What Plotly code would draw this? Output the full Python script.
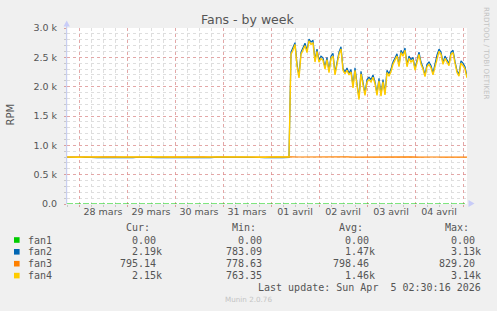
import plotly.graph_objects as go
import pandas as pd

# ---------------- data ----------------
pre_times = pd.date_range("2026-03-27 18:00", periods=38, freq="3h")
post_times = pd.date_range("2026-04-01 10:00", periods=89, freq="h")
fan3_times = pd.date_range("2026-03-27 18:00", periods=51, freq="4h")
fan1_times = pd.date_range("2026-03-27 18:00", periods=3, freq="100h")

fan1 = [0, 0, 0]

fan2_pre = [795, 798, 790, 797, 793, 788, 796, 794, 792, 798,
            795, 790, 797, 793, 799, 791, 795, 794, 789, 797,
            794, 792, 796, 793, 791, 798, 795, 790, 794, 797,
            792, 795, 793, 791, 796, 794, 790, 795]
fan4_pre = [800, 805, 798, 802, 800, 796, 803, 801, 799, 804,
            800, 797, 802, 800, 805, 798, 801, 800, 796, 803,
            800, 799, 802, 800, 798, 804, 801, 797, 800, 803,
            799, 801, 800, 798, 802, 800, 797, 801]

fan2_post = [2590, 2670, 2750, 2390, 2180, 2590, 2660, 2740, 2620, 2810,
             2760, 2790, 2450, 2640, 2450, 2520, 2490, 2330, 2500, 2270,
             2520, 2570, 2230, 2440, 2590, 2680, 2310, 2250, 2320, 2230,
             2290, 2010, 2320, 2050, 1810, 2260, 2080, 1880, 2120, 2160,
             2120, 2200, 2080, 1880, 2140, 1870, 2120, 1890, 2280, 2220,
             2300, 2420, 2490, 2560, 2370, 2620, 2560, 2660, 2370, 2520,
             2460, 2500, 2310, 2440, 2590, 2420, 2330, 2200, 2380, 2420,
             2360, 2230, 2390, 2540, 2640, 2590, 2410, 2520, 2460, 2390,
             2590, 2620, 2430, 2270, 2210, 2440, 2400, 2340, 2180]
fan4_post = [2550, 2620, 2720, 2350, 2150, 2550, 2620, 2700, 2580, 2780,
             2720, 2750, 2420, 2600, 2420, 2480, 2450, 2300, 2460, 2240,
             2480, 2520, 2200, 2400, 2550, 2640, 2280, 2220, 2280, 2200,
             2250, 1980, 2280, 2020, 1780, 2220, 2050, 1850, 2080, 2120,
             2080, 2160, 2050, 1850, 2100, 1840, 2080, 1860, 2240, 2180,
             2260, 2380, 2450, 2520, 2340, 2580, 2520, 2620, 2340, 2480,
             2420, 2460, 2280, 2400, 2550, 2380, 2300, 2170, 2340, 2380,
             2320, 2200, 2350, 2500, 2600, 2550, 2380, 2480, 2420, 2360,
             2550, 2580, 2400, 2240, 2180, 2400, 2360, 2300, 2150]

fan3 = [801, 803, 800, 804, 802, 799, 805, 801, 803, 800,
        802, 804, 801, 799, 803, 802, 800, 804, 801, 803,
        800, 802, 805, 801, 800, 803, 802, 799, 804, 801,
        803, 800, 798, 803, 801, 804, 800, 802, 799, 803,
        801, 800, 804, 802, 798, 803, 801, 800, 802, 804, 799]

series_names = ["fan1", "fan2", "fan3", "fan4"]
series_colors = ["#00cc00", "#0066b3", "#ff8000", "#ffcc00"]
cur_vals = ["0.00", "2.19k", "795.14", "2.15k"]
min_vals = ["0.00", "783.09", "778.63", "763.35"]
avg_vals = ["0.00", "1.47k", "798.46", "1.46k"]
max_vals = ["0.00", "3.13k", "829.20", "3.14k"]
col_headers = ["Cur:", "Min:", "Avg:", "Max:"]

day_lines = pd.date_range("2026-03-28", periods=9, freq="D")
label_times = pd.date_range("2026-03-28 12:00", periods=8, freq="D")
day_labels = ["28 mars", "29 mars", "30 mars", "31 mars",
              "01 avril", "02 avril", "03 avril", "04 avril"]
y_ticks = [0, 500, 1000, 1500, 2000, 2500, 3000]
y_labels = ["0.0", "0.5 k", "1.0 k", "1.5 k", "2.0 k", "2.5 k", "3.0 k"]
x_range = ["2026-03-27 18:00", "2026-04-05 02:00"]

# ---------------- geometry ----------------
W, H = 497, 311
L, T, PW, PH = 67, 28, 400, 176
B = H - T - PH
R = W - L - PW


def px(x):
    return (x - L) / PW


def py(y):
    return (T + PH - y) / PH


fig = go.Figure()
fig.add_trace(go.Scatter(x=list(pre_times) + list(post_times), y=fan2_pre + fan2_post,
                         mode="lines", line=dict(color=series_colors[1], width=1.2),
                         name="fan2", hoverinfo="skip"))
fig.add_trace(go.Scatter(x=fan3_times, y=fan3, mode="lines",
                         line=dict(color=series_colors[2], width=1.2),
                         name="fan3", hoverinfo="skip"))
fig.add_trace(go.Scatter(x=list(pre_times) + list(post_times), y=fan4_pre + fan4_post,
                         mode="lines", line=dict(color=series_colors[3], width=1.4),
                         name="fan4", hoverinfo="skip"))
fig.add_trace(go.Scatter(x=fan1_times, y=fan1, mode="lines", xaxis="x2",
                         line=dict(color=series_colors[0], width=1.2, dash="6px,2px"),
                         name="fan1", hoverinfo="skip"))

major_grid = "rgba(230,130,130,0.6)"
minor_grid = "#dedede"

fig.update_layout(
    width=W, height=H,
    margin=dict(l=L, r=R, t=T, b=B, pad=0),
    paper_bgcolor="#f0f0f0",
    plot_bgcolor="#ffffff",
    showlegend=False,
    font=dict(family="DejaVu Sans", color="#555555", size=9.5),
    xaxis=dict(
        type="date", range=x_range,
        tickmode="array", tickvals=day_lines, showticklabels=False,
        showgrid=True, gridcolor=major_grid, griddash="dot", gridwidth=1,
        ticks="outside", ticklen=2, tickcolor=major_grid,
        minor=dict(dtick=6 * 3600 * 1000, tick0="2026-03-28 00:00", showgrid=True,
                   gridcolor=minor_grid, griddash="dot", ticks="outside",
                   ticklen=2, tickcolor="#c8c8c8"),
        zeroline=False, showline=False, fixedrange=True,
    ),
    xaxis2=dict(
        type="date", overlaying="x", matches="x", anchor="y", side="bottom",
        range=x_range,
        tickmode="array", tickvals=label_times, ticktext=day_labels,
        showgrid=False, ticks="", showline=False, zeroline=False,
        tickfont=dict(size=9.5, color="#555555"),
    ),
    yaxis=dict(
        range=[0, 3000], tickmode="array", tickvals=y_ticks, ticktext=y_labels,
        showgrid=True, gridcolor=major_grid, griddash="dot", gridwidth=1,
        ticks="outside", ticklen=2, tickcolor=major_grid,
        minor=dict(dtick=100, showgrid=True, gridcolor=minor_grid, griddash="dot",
                   ticks="outside", ticklen=2, tickcolor="#c8c8c8"),
        zeroline=False, showline=False, ticklabelstandoff=5,
        tickfont=dict(size=9.5, color="#555555"), fixedrange=True,
    ),
)

shapes = []
axis_col = "rgba(170,180,240,0.7)"
# y axis line + arrow
shapes.append(dict(type="line", xref="paper", yref="paper",
                   x0=px(66.7), x1=px(66.7), y0=py(204), y1=py(24),
                   line=dict(color=axis_col, width=1)))
shapes.append(dict(type="path", xref="paper", yref="paper",
                   path=f"M {px(63.5)} {py(26.5)} L {px(69.9)} {py(26.5)} L {px(66.7)} {py(20.5)} Z",
                   fillcolor="#c8ccf8", line=dict(width=0)))
# x axis arrow
shapes.append(dict(type="path", xref="paper", yref="paper",
                   path=f"M {px(468.5)} {py(200)} L {px(468.5)} {py(207)} L {px(474.5)} {py(203.5)} Z",
                   fillcolor="#c8ccf8", line=dict(width=0)))

annotations = []
annotations.append(dict(text="Fans - by week", x=px(248), y=py(19.5), xref="paper", yref="paper",
                        showarrow=False, xanchor="center", yanchor="middle",
                        font=dict(size=12.5, color="#555555", family="DejaVu Sans")))
annotations.append(dict(text="RPM", x=px(10), y=py(114.5), xref="paper", yref="paper",
                        showarrow=False, textangle=-90, xanchor="center", yanchor="middle",
                        font=dict(size=10, color="#555555", family="DejaVu Sans")))
annotations.append(dict(text="RRDTOOL / TOBI OETIKER", x=px(486.5), y=py(53.5),
                        xref="paper", yref="paper", showarrow=False, textangle=90,
                        xanchor="center", yanchor="middle",
                        font=dict(size=7.2, color="#c4c4c4", family="DejaVu Sans")))
annotations.append(dict(text="Munin 2.0.76", x=px(248), y=py(299.5), xref="paper", yref="paper",
                        showarrow=False, xanchor="center", yanchor="middle",
                        font=dict(size=7.2, color="#c4c4c4", family="DejaVu Sans")))

mono = dict(family="DejaVu Sans Mono", size=10, color="#555555")
col_edges = [162.7, 269.3, 376.0, 482.3]
char_w = 6.0
for edge, head in zip(col_edges, col_headers):
    annotations.append(dict(text=head, x=px(edge - 2 * char_w + 1), y=py(227.7),
                            xref="paper", yref="paper", showarrow=False,
                            xanchor="right", yanchor="middle", font=mono))
row_y = [240, 251.8, 263.7, 275.6]
for i, name in enumerate(series_names):
    y = row_y[i]
    shapes.append(dict(type="rect", xref="paper", yref="paper",
                       x0=px(14), x1=px(19.6), y0=py(y + 2.8), y1=py(y - 2.8),
                       fillcolor=series_colors[i], line=dict(width=0)))
    annotations.append(dict(text=name, x=px(25.5), y=py(y), xref="paper", yref="paper",
                            showarrow=False, xanchor="left", yanchor="middle", font=mono))
    for edge, vals in zip(col_edges, [cur_vals, min_vals, avg_vals, max_vals]):
        v = vals[i]
        e = edge if v.endswith("k") else edge - char_w
        annotations.append(dict(text=v, x=px(e + 1), y=py(y), xref="paper", yref="paper",
                                showarrow=False, xanchor="right", yanchor="middle", font=mono))
annotations.append(dict(text="Last update: Sun Apr \u00a05 02:30:16 2026", x=px(482.3 + 1),
                        y=py(287.7), xref="paper", yref="paper", showarrow=False,
                        xanchor="right", yanchor="middle", font=mono))

fig.update_layout(shapes=shapes, annotations=annotations)
fig.write_html("out.html", config={"displayModeBar": False})
